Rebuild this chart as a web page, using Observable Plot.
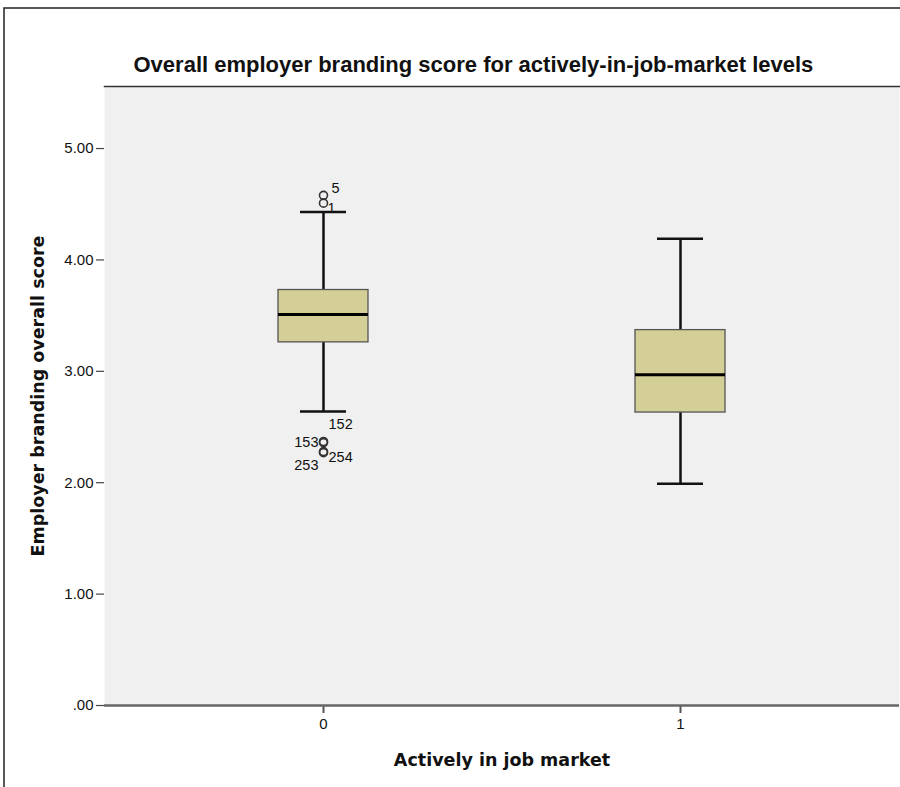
<!DOCTYPE html>
<html>
<head>
<meta charset="utf-8">
<script src="https://cdn.jsdelivr.net/npm/d3@7"></script>
<script src="https://cdn.jsdelivr.net/npm/@observablehq/plot@0.6"></script>
<style>
  html, body { margin: 0; padding: 0; background: #ffffff; }
  #chart { width: 900px; height: 787px; overflow: hidden; }
  svg { display: block; }
</style>
</head>
<body>
<div id="chart"></div>
<script>
// Box summaries per "Actively in job market" level
const groups = ["0", "1"];
const lowerWhisker = [2.64, 1.99];
const q1 = [3.26, 2.63];
const median = [3.51, 2.97];
const q3 = [3.73, 3.37];
const upperWhisker = [4.43, 4.19];

// Outlying cases (case number and score)
const outlierGroup = ["0", "0", "0", "0", "0", "0"];
const outlierCase = ["5", "1", "152", "153", "254", "253"];
const outlierValue = [4.58, 4.51, 2.37, 2.36, 2.28, 2.27];

// Y axis ticks
const yTicks = [0, 1, 2, 3, 4, 5];
const yTickLabels = [".00", "1.00", "2.00", "3.00", "4.00", "5.00"];

const boxes = groups.map((g, i) => ({
  group: g, lo: lowerWhisker[i], q1: q1[i], med: median[i], q3: q3[i], hi: upperWhisker[i]
}));
const outliers = outlierCase.map((c, i) => ({ group: outlierGroup[i], id: c, value: outlierValue[i] }));

// where each case label sits relative to its circle
const labelPlacement = {
  "5":   { dx: 8,  dy: -7,  anchor: "start" },
  "1":   { dx: 4,  dy: 5,   anchor: "start" },
  "152": { dx: 5,  dy: -17, anchor: "start" },
  "153": { dx: -5, dy: 0,   anchor: "end" },
  "254": { dx: 5,  dy: 6,   anchor: "start" },
  "253": { dx: -5, dy: 13,  anchor: "end" }
};

const font = "'Liberation Sans', Arial, sans-serif";
const labelFont = "'DejaVu Sans', Verdana, sans-serif";

const labelMarks = outliers.map(o => {
  const p = labelPlacement[o.id];
  return Plot.text([o], {
    x: "group", y: "value", text: "id",
    dx: p.dx, dy: p.dy, textAnchor: p.anchor,
    fontSize: 14.5, fill: "#111"
  });
});

const chart = Plot.plot({
  width: 900,
  height: 787,
  marginLeft: 104,
  marginTop: 86,
  marginBottom: 82,
  marginRight: 1,
  style: { fontFamily: font, fontSize: "15px", color: "#111", background: "#ffffff", overflow: "visible" },
  x: { type: "band", domain: groups, paddingInner: 0.748, paddingOuter: 0.487, label: null },
  y: { domain: [0, 5.557], label: null },
  marks: [
    Plot.frame({ fill: "#f0f0f0", stroke: null }),
    Plot.frame({ anchor: "top", stroke: "#333", strokeWidth: 1.5 }),
    Plot.axisY({
      ticks: yTicks,
      tickFormat: d => yTickLabels[yTicks.indexOf(d)],
      tickSize: 8, tickPadding: 3, stroke: "#444", strokeWidth: 1.2,
      fontSize: 15, label: null
    }),
    Plot.axisX({ tickSize: 8, tickPadding: 5, stroke: "#555", strokeWidth: 2, fontSize: 15, label: null }),
    // whiskers
    Plot.ruleX(boxes, { x: "group", y1: "lo", y2: "q1", stroke: "#111", strokeWidth: 2.5 }),
    Plot.ruleX(boxes, { x: "group", y1: "q3", y2: "hi", stroke: "#111", strokeWidth: 2.5 }),
    Plot.tickY(boxes, { x: "group", y: "lo", stroke: "#111", strokeWidth: 2.5, insetLeft: 22, insetRight: 22 }),
    Plot.tickY(boxes, { x: "group", y: "hi", stroke: "#111", strokeWidth: 2.5, insetLeft: 22, insetRight: 22 }),
    // boxes
    Plot.barY(boxes, { x: "group", y1: "q1", y2: "q3", fill: "#d3cf97", stroke: "#555", strokeWidth: 1.3 }),
    Plot.tickY(boxes, { x: "group", y: "med", stroke: "#000", strokeWidth: 3 }),
    // outliers
    Plot.dot(outliers, { x: "group", y: "value", r: 4, stroke: "#333", strokeWidth: 1.6, fill: "none" }),
    ...labelMarks,
    // plot edges
    Plot.ruleX([0], { frameAnchor: "left", stroke: "#444", strokeWidth: 1.5 }),
    Plot.ruleY([0], { stroke: "#666", strokeWidth: 2.5 }),
    // titles
    Plot.text(["Overall employer branding score for actively-in-job-market levels"], {
      frameAnchor: "top-left", textAnchor: "start", lineAnchor: "bottom",
      dx: 29, dy: -15, fontSize: 22, fontWeight: "bold", fill: "#111"
    }),
    Plot.text(["Employer branding overall score"], {
      frameAnchor: "left", textAnchor: "middle", rotate: -90, dx: -66, lineAnchor: "middle",
      fontSize: 17.5, fontWeight: "bold", fill: "#111", fontFamily: labelFont
    }),
    Plot.text(["Actively in job market"], {
      frameAnchor: "bottom", textAnchor: "middle", lineAnchor: "middle", dy: 55,
      fontSize: 17.5, fontWeight: "bold", fill: "#111", fontFamily: labelFont
    })
  ]
});

// outer chart border
d3.select(chart).append("rect")
  .attr("x", 4).attr("y", 8)
  .attr("width", 910).attr("height", 800)
  .attr("fill", "none").attr("stroke", "#222").attr("stroke-width", 1.5);

document.getElementById("chart").appendChild(chart);
</script>
</body>
</html>
